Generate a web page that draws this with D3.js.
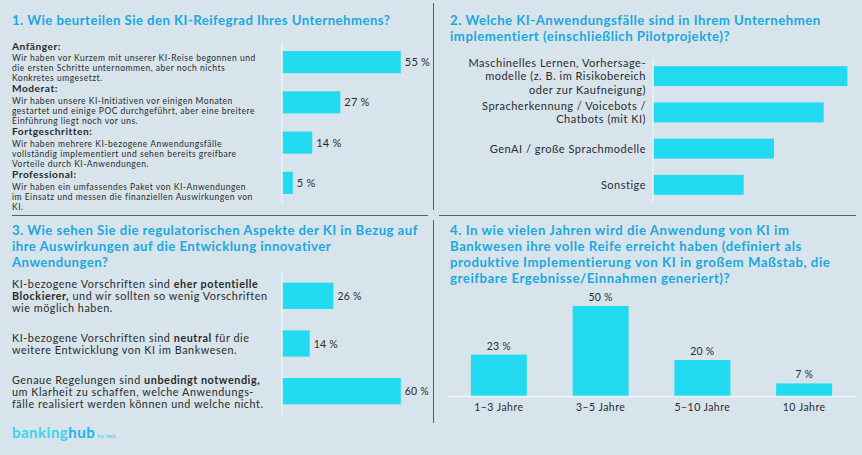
<!DOCTYPE html>
<html><head><meta charset="utf-8">
<script src="https://cdn.jsdelivr.net/npm/d3@7"></script>
<style>
html,body{margin:0;padding:0;background:#d7e4ec;}
svg{display:block;font-family:Lato,"Open Sans",sans-serif;}
</style></head>
<body><svg id="c" width="862" height="455"></svg>
<script>
// ---------- DATA ----------
const titles = [
  ["1. Wie beurteilen Sie den KI-Reifegrad Ihres Unternehmens?"],
  ["2. Welche KI-Anwendungsfälle sind in Ihrem Unternehmen","implementiert (einschließlich Pilotprojekte)?"],
  ["3. Wie sehen Sie die regulatorischen Aspekte der KI in Bezug auf","ihre Auswirkungen auf die Entwicklung innovativer","Anwendungen?"],
  ["4. In wie vielen Jahren wird die Anwendung von KI im","Bankwesen ihre volle Reife erreicht haben (definiert als","produktive Implementierung von KI in großem Maßstab, die","greifbare Ergebnisse/Einnahmen generiert)?"]
];
const q1Categories = ["Anfänger:","Moderat:","Fortgeschritten:","Professional:"];
const q1Descriptions = [
  ["Wir haben vor Kurzem mit unserer KI-Reise begonnen und","die ersten Schritte unternommen, aber noch nichts","Konkretes umgesetzt."],
  ["Wir haben unsere KI-Initiativen vor einigen Monaten","gestartet und einige POC durchgeführt, aber eine breitere","Einführung liegt noch vor uns."],
  ["Wir haben mehrere KI-bezogene Anwendungsfälle","vollständig implementiert und sehen bereits greifbare","Vorteile durch KI-Anwendungen."],
  ["Wir haben ein umfassendes Paket von KI-Anwendungen","im Einsatz und messen die finanziellen Auswirkungen von","KI."]
];
const q1Values = [55, 27, 14, 5];

const q2Categories = [
  ["Maschinelles Lernen, Vorhersage-","modelle (z. B. im Risikobereich","oder zur Kaufneigung)"],
  ["Spracherkennung / Voicebots /","Chatbots (mit KI)"],
  ["GenAI / große Sprachmodelle"],
  ["Sonstige"]
];
const q2Values = [90, 79, 56, 42]; // estimated, no labels in source

const q3Categories = [
  [[["KI-bezogene Vorschriften sind ",0],["eher potentielle",1]],[["Blockierer,",1],[" und wir sollten so wenig Vorschriften",0]],[["wie möglich haben.",0]]],
  [[["KI-bezogene Vorschriften sind ",0],["neutral",1],[" für die",0]],[["weitere Entwicklung von KI im Bankwesen.",0]]],
  [[["Genaue Regelungen sind ",0],["unbedingt notwendig,",1]],[["um Klarheit zu schaffen, welche Anwendungs-",0]],[["fälle realisiert werden können und welche nicht.",0]]]
];
const q3Values = [26, 14, 60];

const q4Categories = ["1–3 Jahre","3–5 Jahre","5–10 Jahre","10 Jahre"];
const q4Values = [23, 50, 20, 7];

// ---------- STYLE ----------
const BAR = "#22dbf1", TITLE = "#1ba8e0", TXT = "#2b2b2b", AXIS = "#edf3f7", DIV = "#5a5f63";
const svg = d3.select("#c");
const fmt = v => v + " %";

// dividers
svg.append("line").attr("x1",433.5).attr("x2",433.5).attr("y1",3).attr("y2",210).attr("stroke",DIV).attr("stroke-width",1);
svg.append("line").attr("x1",433.5).attr("x2",433.5).attr("y1",220).attr("y2",423).attr("stroke",DIV).attr("stroke-width",1);
svg.append("line").attr("x1",12).attr("x2",428).attr("y1",215.5).attr("y2",215.5).attr("stroke",DIV).attr("stroke-width",1);
svg.append("line").attr("x1",439).attr("x2",856).attr("y1",215.5).attr("y2",215.5).attr("stroke",DIV).attr("stroke-width",1);

// titles
const titlePos = [[12,25],[450,25],[12,234.5],[450,234.5]];
const titleLS = [0.45,0.5,0.45,0.55];
titles.forEach((lines,i)=>{
  const t = svg.append("text").attr("x",titlePos[i][0]).attr("y",titlePos[i][1])
    .attr("fill",TITLE).attr("font-weight","bold").attr("font-size",13.2).attr("letter-spacing",titleLS[i]);
  lines.forEach((l,j)=>t.append("tspan").attr("x",titlePos[i][0]).attr("dy", j?16:0).text(l));
});

// ---------- Q1 ----------
{
  const y = d3.scaleBand().domain(q1Categories).range([42,203]).paddingInner(0.45).paddingOuter(0.225);
  const x = d3.scaleLinear().domain([0,100]).range([282,498]);
  const g = svg.append("g");
  g.selectAll("rect").data(q1Values).join("rect")
    .attr("x",x(0)).attr("y",(d,i)=>y(q1Categories[i])).attr("width",d=>x(d)-x(0)).attr("height",y.bandwidth()).attr("fill",BAR);
  g.selectAll("text.v").data(q1Values).join("text").attr("class","v")
    .attr("x",d=>x(d)+4).attr("y",(d,i)=>y(q1Categories[i])+y.bandwidth()/2+4)
    .attr("font-size",11).attr("letter-spacing",0.2).attr("fill",TXT).text(fmt);
  g.append("line").attr("x1",x(0)).attr("x2",x(0)).attr("y1",42).attr("y2",203).attr("stroke",AXIS).attr("stroke-width",1.5);
  q1Categories.forEach((c,i)=>{
    const hy = 49.5 + i*42.9;
    g.append("text").attr("x",12).attr("y",hy).attr("font-size",10.2).attr("font-weight","bold")
      .attr("letter-spacing",0.5).attr("fill",TXT).text(c);
    q1Descriptions[i].forEach((l,j)=>{
      g.append("text").attr("x",12).attr("y",hy + 11.4 + j*10.05).attr("font-size",8.5)
        .attr("letter-spacing",0.5).attr("fill",TXT).text(l);
    });
  });
}

// ---------- Q2 ----------
{
  const cats = q2Categories.map(d=>d.join(" "));
  const y = d3.scaleBand().domain(cats).range([58,203]).paddingInner(0.45).paddingOuter(0.225);
  const x = d3.scaleLinear().domain([0,100]).range([653,869]);
  const g = svg.append("g");
  g.selectAll("rect").data(q2Values).join("rect")
    .attr("x",x(0)).attr("y",(d,i)=>y(cats[i])).attr("width",d=>x(d)-x(0)).attr("height",y.bandwidth()).attr("fill",BAR);
  g.append("line").attr("x1",x(0)).attr("x2",x(0)).attr("y1",58).attr("y2",203).attr("stroke",AXIS).attr("stroke-width",1.5);
  q2Categories.forEach((lines,i)=>{
    const cy = y(cats[i]) + y.bandwidth()/2;
    const n = lines.length, lh = 13.4;
    lines.forEach((l,j)=>{
      g.append("text").attr("x",646).attr("y",cy + (j-(n-1)/2)*lh + 4)
        .attr("text-anchor","end").attr("font-size",11).attr("letter-spacing",0.5).attr("fill",TXT).text(l);
    });
  });
}

// ---------- Q3 ----------
{
  const cats = q3Categories.map((d,i)=>"c"+i);
  const y = d3.scaleBand().domain(cats).range([272,415]).paddingInner(0.45).paddingOuter(0.225);
  const x = d3.scaleLinear().domain([0,100]).range([282,480]);
  const g = svg.append("g");
  g.selectAll("rect").data(q3Values).join("rect")
    .attr("x",x(0)).attr("y",(d,i)=>y(cats[i])).attr("width",d=>x(d)-x(0)).attr("height",y.bandwidth()).attr("fill",BAR);
  g.selectAll("text.v").data(q3Values).join("text").attr("class","v")
    .attr("x",d=>x(d)+4).attr("y",(d,i)=>y(cats[i])+y.bandwidth()/2+4)
    .attr("font-size",10.5).attr("letter-spacing",0.2).attr("fill",TXT).text(fmt);
  g.append("line").attr("x1",x(0)).attr("x2",x(0)).attr("y1",272).attr("y2",415).attr("stroke",AXIS).attr("stroke-width",1.5);
  q3Categories.forEach((lines,i)=>{
    const cy = y(cats[i]) + y.bandwidth()/2;
    const n = lines.length, lh = 12;
    lines.forEach((segs,j)=>{
      const t = g.append("text").attr("x",12).attr("y",cy + (j-(n-1)/2)*lh + 4.5)
        .attr("font-size",10.8).attr("letter-spacing",0.55).attr("fill",TXT);
      segs.forEach(s=>t.append("tspan").attr("font-weight",s[1]?"bold":"normal").text(s[0]));
    });
  });
}

// ---------- Q4 ----------
{
  const x = d3.scaleBand().domain(q4Categories).range([448,855]).paddingInner(0.45).paddingOuter(0.225);
  const y = d3.scaleLinear().domain([0,100]).range([396,216]);
  const g = svg.append("g");
  g.selectAll("rect").data(q4Values).join("rect")
    .attr("x",(d,i)=>x(q4Categories[i])).attr("y",d=>y(d)).attr("width",x.bandwidth()).attr("height",d=>y(0)-y(d)).attr("fill",BAR);
  g.append("line").attr("x1",448).attr("x2",855).attr("y1",y(0)+0.5).attr("y2",y(0)+0.5).attr("stroke",AXIS).attr("stroke-width",1.5);
  g.selectAll("text.v").data(q4Values).join("text").attr("class","v")
    .attr("x",(d,i)=>x(q4Categories[i])+x.bandwidth()/2).attr("y",d=>y(d)-5)
    .attr("text-anchor","middle").attr("font-size",10.5).attr("letter-spacing",0.2).attr("fill",TXT).text(fmt);
  g.selectAll("text.c").data(q4Categories).join("text").attr("class","c")
    .attr("x",d=>x(d)+x.bandwidth()/2).attr("y",y(0)+15)
    .attr("text-anchor","middle").attr("font-size",10.5).attr("letter-spacing",0.45).attr("fill",TXT).text(d=>d);
}

// logo
{
  const t = svg.append("text").attr("x",12).attr("y",438).attr("font-size",15).attr("font-weight","bold").attr("letter-spacing",0.5);
  t.append("tspan").attr("fill","#3fd3ef").text("banking");
  t.append("tspan").attr("fill","#22b3e6").text("hub");
  t.append("tspan").attr("fill","#4fcbee").attr("font-size",6.5).attr("font-weight","normal").attr("letter-spacing",0).attr("dx",2).text("by zeb");
}
</script></body></html>
